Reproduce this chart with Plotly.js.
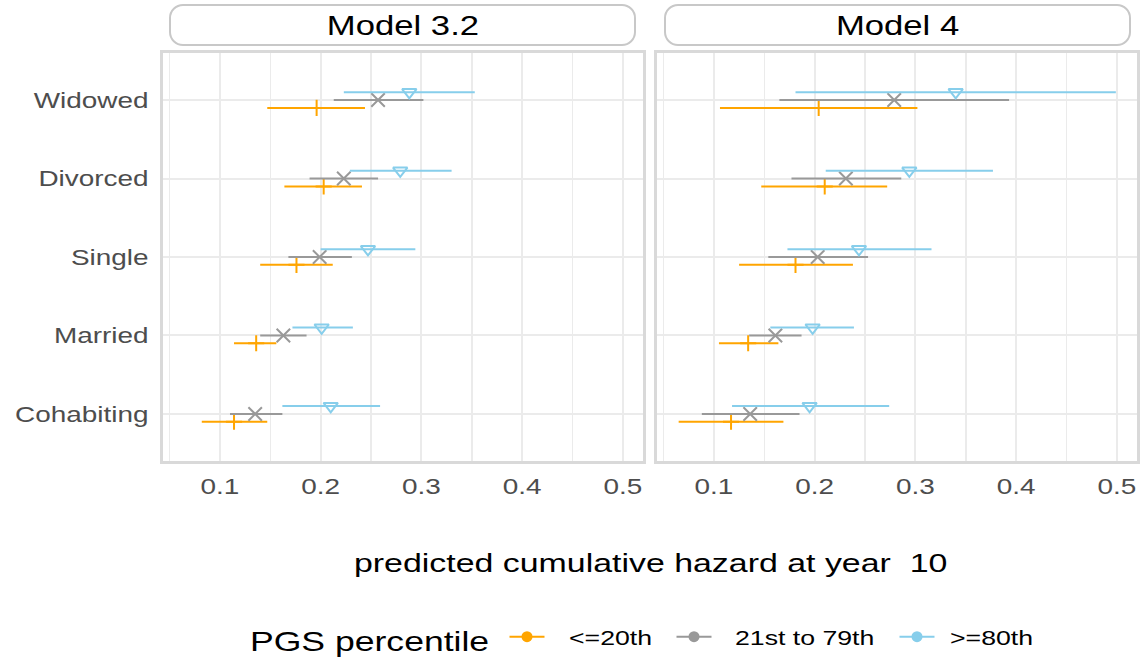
<!DOCTYPE html>
<html>
<head>
<meta charset="utf-8">
<script src="https://cdn.plot.ly/plotly-3.0.1.min.js"></script>
<style>html,body{margin:0;padding:0;background:#fff;}</style>
</head>
<body>
<div id="chart" style="width:1142px;height:667px;"></div>
<script>
// ---- data ----
const categories = ["Cohabiting", "Married", "Single", "Divorced", "Widowed"];
const panels = ["Model 3.2", "Model 4"];
const groups = ["<=20th", "21st to 79th", ">=80th"];

// Model 3.2 (order follows categories)
const m32_low_est  = [0.114, 0.136, 0.176, 0.203, 0.196];
const m32_low_lo   = [0.082, 0.114, 0.140, 0.164, 0.147];
const m32_low_hi   = [0.147, 0.156, 0.212, 0.241, 0.244];
const m32_mid_est  = [0.135, 0.163, 0.199, 0.223, 0.257];
const m32_mid_lo   = [0.110, 0.140, 0.168, 0.189, 0.213];
const m32_mid_hi   = [0.162, 0.186, 0.231, 0.257, 0.302];
const m32_high_est = [0.210, 0.201, 0.247, 0.279, 0.288];
const m32_high_lo  = [0.162, 0.172, 0.200, 0.229, 0.223];
const m32_high_hi  = [0.259, 0.232, 0.294, 0.330, 0.353];

// Model 4
const m4_low_est  = [0.117, 0.134, 0.181, 0.210, 0.204];
const m4_low_lo   = [0.065, 0.105, 0.125, 0.147, 0.106];
const m4_low_hi   = [0.169, 0.164, 0.238, 0.272, 0.302];
const m4_mid_est  = [0.136, 0.161, 0.203, 0.231, 0.279];
const m4_mid_lo   = [0.088, 0.135, 0.154, 0.177, 0.165];
const m4_mid_hi   = [0.185, 0.187, 0.253, 0.286, 0.393];
const m4_high_est = [0.195, 0.198, 0.244, 0.294, 0.340];
const m4_high_lo  = [0.118, 0.156, 0.173, 0.211, 0.181];
const m4_high_hi  = [0.274, 0.239, 0.316, 0.377, 0.499];

const xTickVals = [0.1, 0.2, 0.3, 0.4, 0.5];
const xTickText = ["0.1", "0.2", "0.3", "0.4", "0.5"];

// ---- styles ----
const colors = ["#FFA500", "#999999", "#87CEEB"];
const symbols = ["cross-thin-open", "x-thin-open", "triangle-down-open"];
const symSizes = [11.5, 13.5, 12.5];
const dodge = [-0.1, 0, 0.1];
const FONT = "Liberation Sans, Arial, Helvetica, sans-serif";
const TEXT_STRETCH = 1.27;                 // reference text is drawn wide
const legendSymbolCenters = [527, 694, 917]; // px
const legendTextStarts = [569, 735, 950];    // px
const legendTitleLeft = 250;                  // px
const legendTitleShiftY = -2;                 // px

const panelData = [
  [[m32_low_est, m32_low_lo, m32_low_hi], [m32_mid_est, m32_mid_lo, m32_mid_hi], [m32_high_est, m32_high_lo, m32_high_hi]],
  [[m4_low_est, m4_low_lo, m4_low_hi], [m4_mid_est, m4_mid_lo, m4_mid_hi], [m4_high_est, m4_high_lo, m4_high_hi]]
];

const traces = [];
panelData.forEach((pd, p) => {
  pd.forEach((g, gi) => {
    const [est, lo, hi] = g;
    traces.push({
      type: "scatter", mode: "markers",
      x: est,
      y: categories.map((c, i) => i + 1 + dodge[gi]),
      xaxis: p === 0 ? "x" : "x2",
      yaxis: p === 0 ? "y" : "y2",
      marker: {symbol: symbols[gi], size: symSizes[gi], color: colors[gi],
               line: {color: colors[gi], width: 2}},
      error_x: {type: "data", symmetric: false,
                array: hi.map((h, i) => h - est[i]),
                arrayminus: lo.map((l, i) => est[i] - l),
                width: 0, thickness: 2, color: colors[gi]},
      showlegend: false, hoverinfo: "skip"
    });
  });
});
groups.forEach((g, gi) => {
  traces.push({
    type: "scatter", mode: "lines+markers", x: [null], y: [null],
    name: g, line: {color: colors[gi], width: 2},
    marker: {symbol: "circle", size: 11, color: colors[gi]},
    showlegend: true
  });
});

const W = 1142, H = 667;
const px = v => v / W, py = v => 1 - v / H;
function roundRect(x0, y0, x1, y1, r) {
  const k = 0.45;
  const P = (x, y) => `${px(x)},${py(y)}`;
  return `M${P(x0 + r, y0)} L${P(x1 - r, y0)} C${P(x1 - r * k, y0)} ${P(x1, y0 + r * k)} ${P(x1, y0 + r)}` +
         ` L${P(x1, y1 - r)} C${P(x1, y1 - r * k)} ${P(x1 - r * k, y1)} ${P(x1 - r, y1)}` +
         ` L${P(x0 + r, y1)} C${P(x0 + r * k, y1)} ${P(x0, y1 - r * k)} ${P(x0, y1 - r)}` +
         ` L${P(x0, y0 + r)} C${P(x0, y0 + r * k)} ${P(x0 + r * k, y0)} ${P(x0 + r, y0)} Z`;
}

const xCommon = {
  range: [0.0435, 0.52], tickvals: xTickVals, ticktext: xTickText,
  showgrid: true, gridcolor: "#EBEBEB", gridwidth: 2,
  minor: {dtick: 0.05, tick0: 0.05, showgrid: true, gridcolor: "#EBEBEB", gridwidth: 1.5},
  zeroline: false, showline: true, mirror: true, linecolor: "#D9D9D9", linewidth: 3,
  ticks: "", ticklabelstandoff: 4,
  tickfont: {family: FONT, size: 22, color: "#4D4D4D"}, fixedrange: true
};
const yCommon = {
  range: [0.4, 5.6], tickvals: [1, 2, 3, 4, 5],
  showgrid: true, gridcolor: "#EBEBEB", gridwidth: 2,
  zeroline: false, showline: true, mirror: true, linecolor: "#D9D9D9", linewidth: 3,
  ticks: "", fixedrange: true,
  domain: [py(461), py(53)]
};

const layout = {
  width: W, height: H,
  margin: {l: 0, r: 0, t: 0, b: 0},
  paper_bgcolor: "#FFFFFF", plot_bgcolor: "#FFFFFF",
  font: {family: FONT, color: "#000000"},
  xaxis: Object.assign({}, xCommon, {domain: [px(163), px(643)], anchor: "y"}),
  xaxis2: Object.assign({}, xCommon, {domain: [px(657), px(1137)], anchor: "y2"}),
  yaxis: Object.assign({}, yCommon, {anchor: "x", ticktext: categories, ticklabelstandoff: 7,
          tickfont: {family: FONT, size: 22, color: "#4D4D4D"}}),
  yaxis2: Object.assign({}, yCommon, {anchor: "x2", showticklabels: false}),
  showlegend: true,
  legend: {
    orientation: "h", x: px(248), xanchor: "left", y: py(640), yanchor: "middle",
    title: {text: "PGS percentile", side: "left", font: {family: FONT, size: 28, color: "#000"}},
    font: {family: FONT, size: 21, color: "#000"},
    tracegroupgap: 0, bgcolor: "rgba(0,0,0,0)"
  },
  shapes: [
    {type: "path", xref: "paper", yref: "paper", path: roundRect(170, 5, 635, 45, 13),
     line: {color: "#C8C8C8", width: 2}, fillcolor: "#FFFFFF"},
    {type: "path", xref: "paper", yref: "paper", path: roundRect(665, 5, 1130, 45, 13),
     line: {color: "#C8C8C8", width: 2}, fillcolor: "#FFFFFF"}
  ],
  annotations: [
    {text: panels[0], xref: "paper", yref: "paper", x: px(402.5), y: py(25), xanchor: "center", yanchor: "middle",
     showarrow: false, font: {family: FONT, size: 27.3, color: "#000"}},
    {text: panels[1], xref: "paper", yref: "paper", x: px(897.5), y: py(25), xanchor: "center", yanchor: "middle",
     showarrow: false, font: {family: FONT, size: 27.3, color: "#000"}},
    {text: "predicted cumulative hazard at year  10", xref: "paper", yref: "paper", x: px(651), y: py(563),
     xanchor: "center", yanchor: "middle", showarrow: false, font: {family: FONT, size: 26.7, color: "#000"}}
  ]
};

function parseTranslate(tr) {
  const m = /translate\(\s*([-\d.e]+)[ ,]+([-\d.e]+)\s*\)/.exec(tr || "");
  return m ? [parseFloat(m[1]), parseFloat(m[2])] : [0, 0];
}

function adjustText(gd) {
  const root = gd.getBoundingClientRect();
  // let the legend draw outside its computed box
  gd.querySelectorAll(".legend, .legend *").forEach(el => el.removeAttribute("clip-path"));
  // legend items: place symbols and texts
  const items = gd.querySelectorAll(".legend .traces");
  items.forEach((g, i) => {
    if (i >= legendSymbolCenters.length) return;
    g.querySelectorAll(".legendlines path").forEach(p => p.setAttribute("d", "M2.5,0h35"));
    const pt = g.querySelector(".legendpoints path.scatterpts") || g.querySelector(".legendpoints path");
    if (pt) {
      const r = pt.getBoundingClientRect();
      const cx = r.left + r.width / 2 - root.left;
      const [tx, ty] = parseTranslate(g.getAttribute("transform"));
      g.setAttribute("transform", `translate(${tx + legendSymbolCenters[i] - cx},${ty})`);
      const txt = g.querySelector("text.legendtext");
      if (txt) {
        const lx = 20 + (legendTextStarts[i] - legendSymbolCenters[i]);
        txt.setAttribute("x", lx);
        txt.querySelectorAll("tspan").forEach(s => { if (s.hasAttribute("x")) s.setAttribute("x", lx); });
      }
    }
  });
  // legend title
  const lt = gd.querySelector(".legend .legendtitletext");
  if (lt) {
    const r = lt.getBoundingClientRect();
    const dx = legendTitleLeft - (r.left - root.left);
    const x0 = parseFloat(lt.getAttribute("x")) || 0;
    const y0 = parseFloat(lt.getAttribute("y")) || 0;
    lt.setAttribute("x", x0 + dx);
    lt.setAttribute("y", y0 + legendTitleShiftY);
  }
  // stretch all texts horizontally about their anchor
  gd.querySelectorAll("svg text").forEach(t => {
    const ax = parseFloat(t.getAttribute("x")) || 0;
    const tr = t.getAttribute("transform") || "";
    t.setAttribute("transform", `${tr} translate(${ax},0) scale(${TEXT_STRETCH},1) translate(${-ax},0)`);
  });
}

Plotly.newPlot("chart", traces, layout, {displayModeBar: false, staticPlot: true}).then(adjustText);
</script>
</body>
</html>
